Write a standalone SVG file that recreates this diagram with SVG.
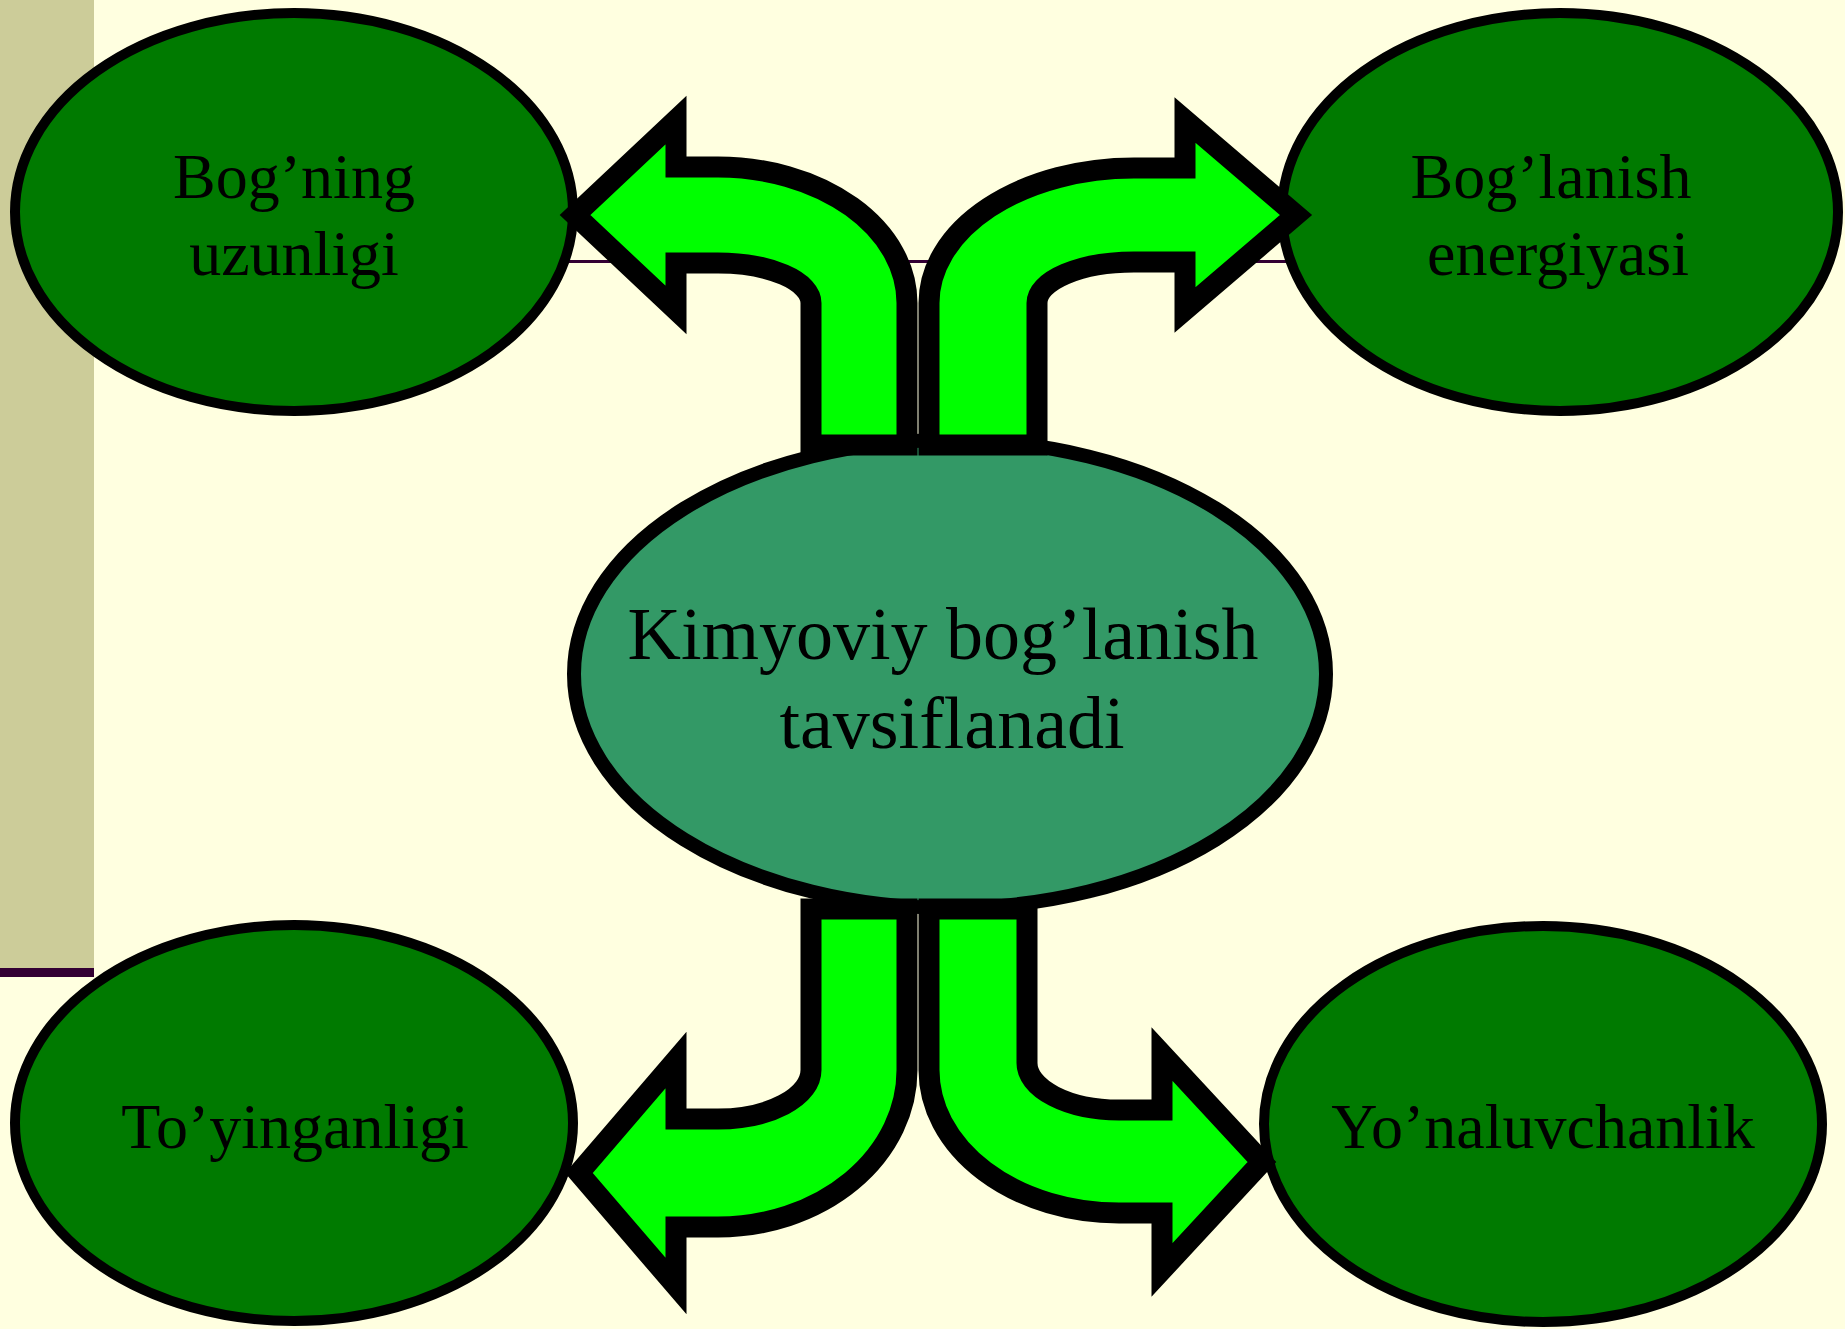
<svg xmlns="http://www.w3.org/2000/svg" width="1845" height="1329" viewBox="0 0 1845 1329">
  <style>
    .node { fill: #007A00; stroke: #000000; stroke-width: 10; }
    .center { fill: #339966; stroke: #000000; stroke-width: 14; }
    .arrow { fill: #00FF00; stroke: #000000; stroke-width: 21; stroke-linejoin: miter; stroke-miterlimit: 10; }
    .lbl { font-family: "Liberation Serif", "Times New Roman", serif; font-size: 64px; fill: #000000; text-anchor: middle; }
    .lblc { font-family: "Liberation Serif", "Times New Roman", serif; font-size: 74px; fill: #000000; text-anchor: middle; }
  </style>
  <g id="background">
    <rect x="0" y="0" width="1845" height="1329" fill="#FFFFE0"/>
    <rect x="0" y="0" width="94" height="968" fill="#CCCC99"/>
    <rect x="0" y="968" width="94" height="9" fill="#330033"/>
    <rect x="94" y="260" width="1606" height="3" fill="#330033"/>
  </g>
  <g id="node-bog-ning-uzunligi">
    <ellipse class="node" cx="294" cy="212" rx="279" ry="199"/>
    <text class="lbl" x="294" y="198">Bog’ning</text>
    <text class="lbl" x="294" y="275">uzunligi</text>
  </g>
  <g id="node-boglanish-energiyasi">
    <ellipse class="node" cx="1560" cy="212" rx="278" ry="199"/>
    <text class="lbl" x="1551" y="198">Bog’lanish</text>
    <text class="lbl" x="1558" y="275">energiyasi</text>
  </g>
  <g id="node-toyinganligi">
    <ellipse class="node" cx="294" cy="1123" rx="279" ry="198"/>
    <text class="lbl" x="295" y="1148">To’yinganligi</text>
  </g>
  <g id="node-yonaluvchanlik">
    <ellipse class="node" cx="1543" cy="1124" rx="279" ry="198"/>
    <text class="lbl" x="1543" y="1148">Yo’naluvchanlik</text>
  </g>
  <g id="node-center">
    <ellipse class="center" cx="950" cy="674" rx="376" ry="234"/>
    <text class="lblc" x="943" y="659">Kimyoviy bog’lanish</text>
    <text class="lblc" x="952" y="748">tavsiflanadi</text>
  </g>
  <g id="connectors">
    <path class="arrow" d="M 811 445 L 811 303 A 93 40 0 0 0 718 263 L 676 263 L 676 310 L 575 215 L 676 120 L 676 167 L 718 167 A 189 136 0 0 1 907 303 L 907 445 Z"/>
    <path class="arrow" d="M 929 445 L 929 303 A 205 135 0 0 1 1134 168 L 1185 168 L 1185 120 L 1296 215 L 1185 310 L 1185 262 L 1134 262 A 97 41 0 0 0 1037 303 L 1037 445 Z"/>
    <path class="arrow" d="M 811 909 L 811 1070 A 93 49 0 0 1 718 1119 L 676 1119 L 676 1060 L 579 1173 L 676 1286 L 676 1227 L 718 1227 A 189 157 0 0 0 907 1070 L 907 909 Z"/>
    <path class="arrow" d="M 929 909 L 929 1070 A 190 143 0 0 0 1119 1213 L 1162 1213 L 1162 1270 L 1262 1162 L 1162 1054 L 1162 1110 L 1119 1110 A 92 47 0 0 1 1027 1063 L 1027 909 Z"/>
  </g>
</svg>
